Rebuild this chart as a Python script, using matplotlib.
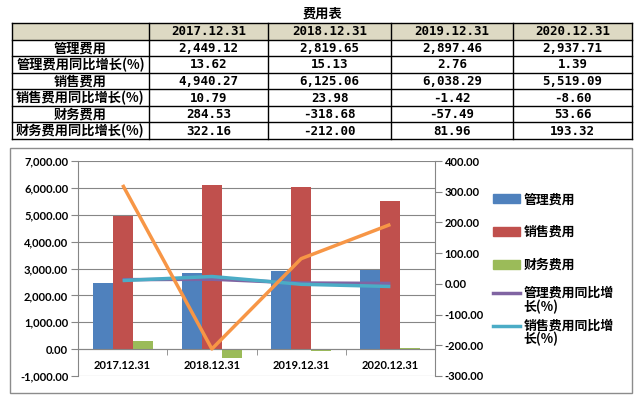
import numpy as np
import matplotlib
matplotlib.use("Agg")
import matplotlib.pyplot as plt
from matplotlib.patches import Rectangle, Patch
from matplotlib.lines import Line2D
from matplotlib.legend_handler import HandlerLine2D
from matplotlib.ticker import FuncFormatter, MultipleLocator, FixedLocator

# ---------------- data ----------------
title = "费用表"
periods = ["2017.12.31", "2018.12.31", "2019.12.31", "2020.12.31"]
row_labels = ["管理费用", "管理费用同比增长(%)", "销售费用", "销售费用同比增长(%)",
              "财务费用", "财务费用同比增长(%)"]
mgmt = [2449.12, 2819.65, 2897.46, 2937.71]
mgmt_yoy = [13.62, 15.13, 2.76, 1.39]
sales = [4940.27, 6125.06, 6038.29, 5519.09]
sales_yoy = [10.79, 23.98, -1.42, -8.60]
fin = [284.53, -318.68, -57.49, 53.66]
fin_yoy = [322.16, -212.00, 81.96, 193.32]
legend_bar_labels = ["管理费用", "销售费用", "财务费用"]
legend_line_labels = ["管理费用同比增\n长(%)", "销售费用同比增\n长(%)"]

C_BLUE = "#4F81BD"
C_RED = "#C0504D"
C_GREEN = "#9BBB59"
C_PURPLE = "#8064A2"
C_CYAN = "#4BACC6"
C_ORANGE = "#F79646"
GREY = "#868686"

W, H = 640, 400
fig = plt.figure(figsize=(W / 100, H / 100), dpi=100)

# ---------------- table (pixel coordinate overlay) ----------------
tax = fig.add_axes([0, 0, 1, 1])
tax.set_xlim(0, W)
tax.set_ylim(H, 0)
tax.axis("off")

col_edges = [12, 149, 268, 391, 513, 632]
top, bottom = 23, 139
nrows = 1 + len(row_labels)
rh = (bottom - top) / nrows
row_edges = [top + i * rh for i in range(nrows + 1)]

tax.add_patch(Rectangle((col_edges[0], top), col_edges[-1] - col_edges[0], rh,
                        facecolor="#DDD9C3", edgecolor="none"))
for y in row_edges:
    tax.plot([col_edges[0], col_edges[-1]], [y, y], color="black", lw=1)
for x in col_edges:
    tax.plot([x, x], [top, bottom], color="black", lw=1)

cjk = dict(family=["Noto Sans CJK SC", "DejaVu Sans"], fontweight="bold")
mono = dict(family=["DejaVu Sans Mono"], fontweight="bold")

tax.text((col_edges[0] + col_edges[-1]) / 2, 14, title, ha="center", va="center",
         fontsize=9.5, **cjk)

def fmt_num(v):
    return f"{v:,.2f}"

table_vals = [mgmt, mgmt_yoy, sales, sales_yoy, fin, fin_yoy]
for j, p in enumerate(periods):
    cx = (col_edges[j + 1] + col_edges[j + 2]) / 2
    tax.text(cx, top + rh / 2 + 0.5, p, ha="center", va="center", fontsize=9, **mono)
for i, lab in enumerate(row_labels):
    cy = top + rh * (i + 1.5) + 0.5
    tax.text((col_edges[0] + col_edges[1]) / 2, cy, lab, ha="center", va="center",
             fontsize=9.5, **cjk)
    for j in range(len(periods)):
        cx = (col_edges[j + 1] + col_edges[j + 2]) / 2
        tax.text(cx, cy, fmt_num(table_vals[i][j]), ha="center", va="center",
                 fontsize=9, **mono)

# chart outer box
tax.add_patch(Rectangle((10, 148), 622, 245, fill=False, edgecolor="#8C8C8C", lw=1))

# ---------------- chart ----------------
pl, pr, pt, pb = 78, 435, 161, 376
ax = fig.add_axes([pl / W, 1 - pb / H, (pr - pl) / W, (pb - pt) / H])
ax.set_facecolor("none")
x = np.arange(len(periods))
bw = 0.225
ax.bar(x - bw, mgmt, bw, color=C_BLUE, zorder=2)
ax.bar(x, sales, bw, color=C_RED, zorder=2)
ax.bar(x + bw, fin, bw, color=C_GREEN, zorder=2)
ax.set_xlim(-0.5, len(periods) - 0.5)
ax.set_ylim(-1000, 7000)
ax.yaxis.set_major_locator(MultipleLocator(1000))
ax.yaxis.set_major_formatter(FuncFormatter(lambda v, p: f"{v:,.2f}"))
ax.grid(axis="y", color=GREY, lw=0.8, zorder=0)
ax.set_axisbelow(True)
for s in ["top", "right"]:
    ax.spines[s].set_visible(False)
ax.spines["left"].set_color(GREY)
ax.spines["bottom"].set_color(GREY)
ax.spines["bottom"].set_position(("data", 0))
ax.set_xticks(x)
ax.set_xticklabels(periods)
ax.xaxis.set_minor_locator(FixedLocator([0.5, 1.5, 2.5, 3.5]))
ax.tick_params(axis="x", which="major", length=0, pad=8)
ax.tick_params(axis="x", which="minor", length=4, color=GREY, direction="out")
ax.tick_params(axis="y", length=5, color=GREY, pad=2)
tickfont = dict(family=["Lato", "DejaVu Sans"], fontweight="bold", fontsize=8)
for t in ax.get_xticklabels() + ax.get_yticklabels():
    t.set(**tickfont)

ax2 = ax.twinx()
ax2.set_ylim(-300, 400)
ax2.yaxis.set_major_locator(MultipleLocator(100))
ax2.yaxis.set_major_formatter(FuncFormatter(lambda v, p: f"{v:,.2f}"))
for s in ["top", "left", "bottom"]:
    ax2.spines[s].set_visible(False)
ax2.spines["right"].set_color(GREY)
ax2.tick_params(axis="y", length=5, color=GREY, pad=2)
for t in ax2.get_yticklabels():
    t.set(**tickfont)
l1, = ax2.plot(x, mgmt_yoy, color=C_PURPLE, lw=2.5, solid_capstyle="butt")
l2, = ax2.plot(x, sales_yoy, color=C_CYAN, lw=2.5, solid_capstyle="butt")
l3, = ax2.plot(x, fin_yoy, color=C_ORANGE, lw=2.5, solid_capstyle="butt")

# ---------------- legends ----------------
class UpLine(HandlerLine2D):
    def create_artists(self, *args, **kwargs):
        arts = super().create_artists(*args, **kwargs)
        for a in arts:
            if hasattr(a, "set_ydata"):
                a.set_ydata(np.asarray(a.get_ydata()) + 5.5)
        return arts

legfont = dict(family=["Noto Sans CJK SC", "DejaVu Sans"], weight="bold", size=9.3)
bar_handles = [Patch(color=C_BLUE), Patch(color=C_RED), Patch(color=C_GREEN)]
leg1 = fig.legend(bar_handles, legend_bar_labels, loc="center left",
                  bbox_to_anchor=(493 / W, 1 - 232 / H), frameon=False,
                  prop=legfont, handlelength=2.1, handleheight=0.65,
                  handletextpad=0.25, labelspacing=1.45, borderpad=0, borderaxespad=0)
line_handles = [Line2D([], [], color=C_PURPLE, lw=2.5), Line2D([], [], color=C_CYAN, lw=2.5)]
leg2 = fig.legend(line_handles, legend_line_labels, loc="center left",
                  bbox_to_anchor=(493 / W, 1 - 316 / H), frameon=False,
                  prop=legfont, handlelength=2.1, handletextpad=0.25,
                  labelspacing=0.35, borderpad=0, borderaxespad=0,
                  handler_map={Line2D: UpLine()})
for t in leg2.get_texts():
    t.set_linespacing(1.0)

fig.savefig("out.png", dpi=100)
